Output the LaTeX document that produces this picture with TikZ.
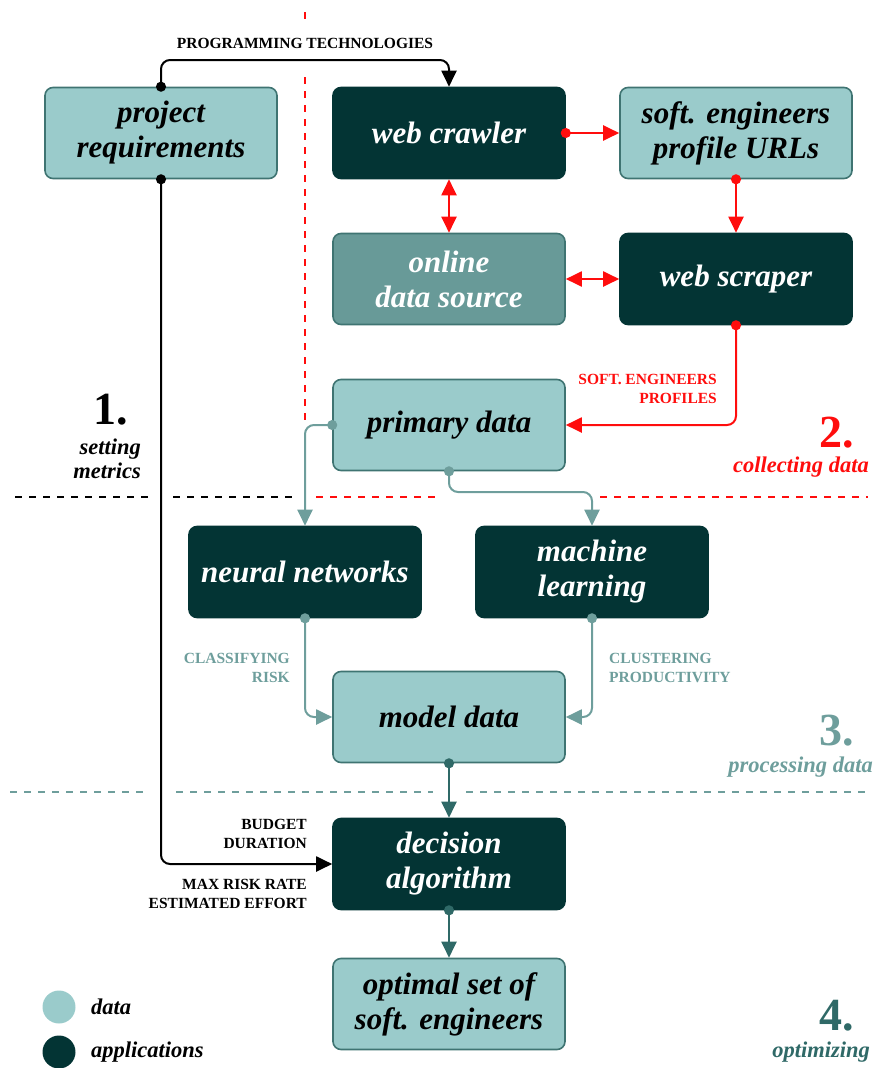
\documentclass[tikz,border=0pt]{standalone}
\usepackage{fontspec}
\setmainfont{Liberation Serif}
\usetikzlibrary{arrows.meta}

\definecolor{datafill}{HTML}{9ACBCB}
\definecolor{databorder}{HTML}{3F7472}
\definecolor{appfill}{HTML}{033434}
\definecolor{srcfill}{HTML}{689A98}
\definecolor{tealline}{HTML}{6E9E9C}
\definecolor{tealdark}{HTML}{2F6967}
\definecolor{redline}{HTML}{FF0D0D}

\begin{document}
\begin{tikzpicture}[
  x=1pt, y=-1pt,
  box/.style        = {rectangle, rounded corners=8pt, minimum width=232pt, minimum height=91pt,
                       align=center, line width=1.6pt,
                       font=\fontsize{31}{35}\selectfont\bfseries\itshape},
  data box/.style   = {box, fill=datafill, draw=databorder, text=black},
  app box/.style    = {box, fill=appfill, draw=appfill, text=white},
  source box/.style = {box, fill=srcfill, draw=databorder, text=white},
  tag/.style        = {font=\fontsize{15.5}{18.5}\selectfont\bfseries, inner sep=0pt},
  step num/.style   = {font=\fontsize{46}{46}\selectfont\bfseries, anchor=east, inner sep=0pt},
  step name/.style  = {font=\fontsize{22.5}{24.5}\selectfont\bfseries\itshape, anchor=east, align=right, inner sep=0pt},
  link/.style       = {line width=2pt, rounded corners=9pt},
  flow/.style       = {link, {Circle[length=10pt]}-{Triangle[length=16pt,width=15pt]}, shorten <=-5pt},
  both/.style       = {link, {Triangle[length=16pt,width=15pt]}-{Triangle[length=16pt,width=15pt]}},
  divider/.style    = {line width=2.5pt, dash pattern=on 7pt off 7pt},
]
\useasboundingbox (0,0) rectangle (877,1068);

% =============================================================
% Section dividers
% =============================================================
\draw[divider, redline] (305,12) -- (305,22);
\draw[divider, redline] (305,77) -- (305,420);
\draw[divider, black]   (15,497) -- (152,497);
\draw[divider, black]   (173,497) -- (292,497);
\draw[divider, redline] (316,497) -- (437,497);
\draw[divider, redline] (600,497) -- (868,497);
\draw[divider, tealline] (10,792) -- (150,792);
\draw[divider, tealline] (176,792) -- (433,792);
\draw[divider, tealline] (466,792) -- (868,792);

% =============================================================
% Boxes
% =============================================================
\node[data box]   (req)  at (161,133) {project\\requirements};
\node[app box]    (crawl) at (449,133) {web crawler};
\node[data box]   (urls) at (736,133) {soft. engineers\\profile URLs};
\node[source box] (src)  at (449,279) {online\\data source};
\node[app box]    (scrap) at (736,279) {web scraper};
\node[data box]   (prim) at (449,425) {primary data};
\node[app box]    (nnet) at (305,572) {neural networks};
\node[app box]    (mlearn) at (592,572) {machine\\learning};
\node[data box]   (model) at (449,717) {model data};
\node[app box]    (decide) at (449,864) {decision\\algorithm};
\node[data box]   (best) at (449,1004) {optimal set of\\soft. engineers};

% =============================================================
% 1. setting metrics (black)
% =============================================================
\draw[flow, black] (req.north) -- (req.north |- 0,60) -| (crawl.north);
\node[tag] (progtech) at (305,43) {PROGRAMMING TECHNOLOGIES};
\draw[flow, black] (req.south) |- (decide.west);
\node[tag, anchor=east, align=right] (budget) at (307,834) {BUDGET\\DURATION};
\node[tag, anchor=east, align=right] (risk)   at (307,894) {MAX RISK RATE\\ESTIMATED EFFORT};

\node[step num]  (n1) at (128,410) {1.};
\node[step name] (s1) at (141,459) {setting\\metrics};

% =============================================================
% 2. collecting data (red)
% =============================================================
\draw[flow, redline] (crawl.east) -- (urls.west);
\draw[both, redline] (crawl.south) -- (src.north);
\draw[flow, redline] (urls.south) -- (urls.south |- scrap.north);
\draw[both, redline] (src.east) -- (scrap.west);
\draw[flow, redline] (scrap.south) |- (prim.east);
\node[tag, anchor=east, align=right, text=redline] (profiles) at (717,389) {SOFT. ENGINEERS\\PROFILES};

\node[step num, text=redline]  (n2) at (854,433) {2.};
\node[step name, text=redline] (s2) at (869,467) {collecting data};

% =============================================================
% 3. processing data (teal)
% =============================================================
\draw[flow, tealline] (prim.west) -| (nnet.north);
\draw[flow, tealline] (prim.south) -- (prim.south |- 0,492) -| (mlearn.north);
\draw[flow, tealline] (nnet.south) |- (model.west);
\draw[flow, tealline] (mlearn.south) |- (model.east);
\node[tag, anchor=east, align=right, text=tealline] (classify) at (290,668) {CLASSIFYING\\RISK};
\node[tag, anchor=west, align=left, text=tealline]  (cluster)  at (609,668) {CLUSTERING\\PRODUCTIVITY};

\node[step num, text=tealline]  (n3) at (854,731) {3.};
\node[step name, text=tealline] (s3) at (873,767) {processing data};

% =============================================================
% 4. optimizing (dark teal)
% =============================================================
\draw[flow, tealdark] (model.south) -- (decide.north);
\draw[flow, tealdark] (decide.south) -- (best.north);

\node[step num, text=tealdark]  (n4) at (854,1016) {4.};
\node[step name, text=tealdark] (s4) at (870,1052) {optimizing};

% =============================================================
% Legend
% =============================================================
\fill[datafill] (59,1007) circle[radius=16.5pt];
\fill[appfill]  (59,1052) circle[radius=16.5pt];
\node[step name, anchor=west] (keydata) at (91,1007) {data};
\node[step name, anchor=west] (keyapp)  at (91,1052) {applications};

\end{tikzpicture}
\end{document}
